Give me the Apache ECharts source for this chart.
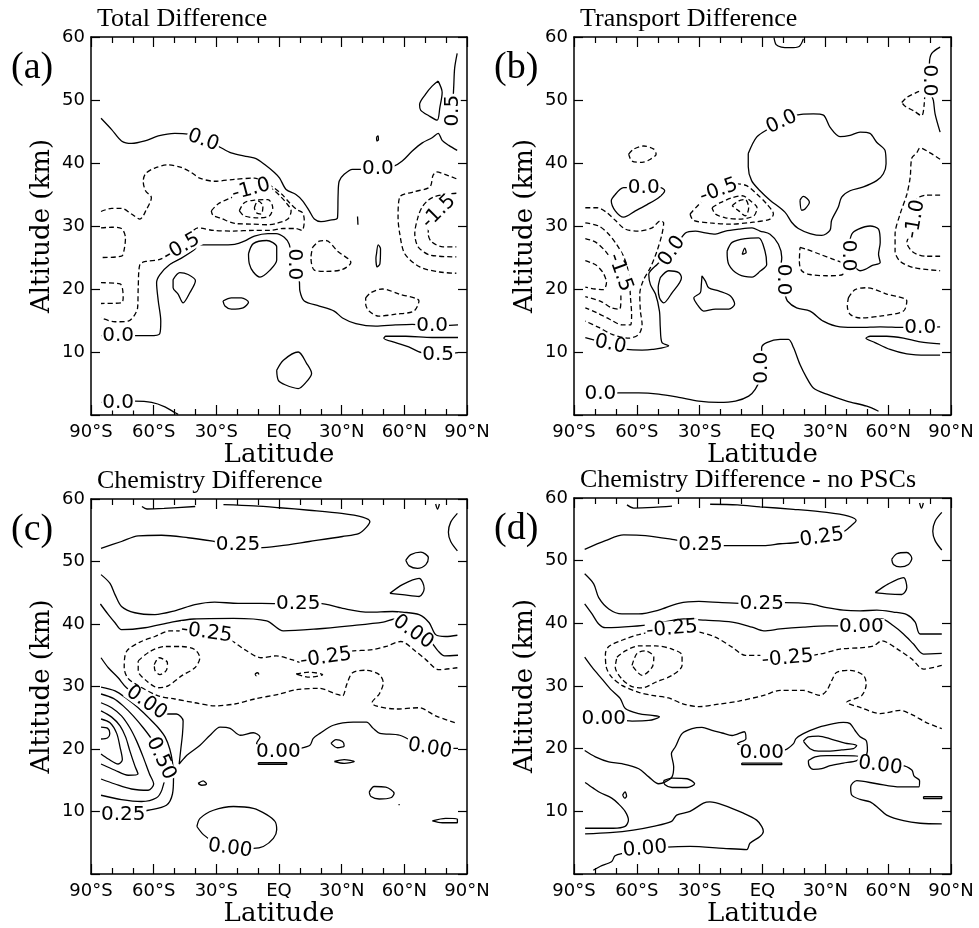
<!DOCTYPE html>
<html>
<head>
<meta charset="utf-8">
<title>Ozone difference panels</title>
<script src="https://cdn.jsdelivr.net/npm/echarts@6/dist/echarts.min.js"></script>
<style>
html, body { margin: 0; padding: 0; background: #fff; }
#chart { width: 979px; height: 928px; }
</style>
</head>
<body>
<div id="chart"></div>
<script>
// axis ticks
var latTicks = [-90, -60, -30, 0, 30, 60, 90];
var latNames = ['90°S', '60°S', '30°S', 'EQ', '30°N', '60°N', '90°N'];
var panelTitles = ['Total Difference', 'Transport Difference', 'Chemistry Difference', 'Chemistry Difference - no PSCs'];
var panelLetters = ['(a)', '(b)', '(c)', '(d)'];

// contours are [latitude, altitude km] points
// (a) total difference
var totalSolid = [
  [[-85.2,47.1],[-80.1,45.3],[-75.4,43.5],[-70.6,43.1],[-64.2,43.5],[-57.8,44.3],[-49.9,44.7],[-43.6,44.6],[-36.3,43.6],[-29.3,42.7],[-22.9,41.6],[-14.9,41],[-11,40.7],[-7,39.8],[-2.2,38.5],[0.3,37.6],[3.4,35.8],[8.1,35],[11.3,34],[14.5,32.4],[16.9,31.1],[20.1,30.7],[24,30.9],[28,31.3],[28.3,35],[28.8,37.1],[31.2,38.2],[35.2,39],[40,39],[47.1,39],[55,39.5],[59,40.3],[63.8,41.9],[68.6,43.2],[73.3,44],[76.2,44.7],[78.1,43.6],[81.3,42.8],[85.3,42]],
  [[85.3,57.4],[84.1,55.1],[83.7,52.5],[83.2,48.3],[83.3,46.5]],
  [[76.2,53],[78.1,51.2],[77,48.8],[75.7,46.8],[71.7,47.5],[67.8,48.4],[67.3,49.3],[70.1,50.9],[73.3,52.2],[76.2,53]],
  [[46.7,44.1],[47.4,44.3],[47.6,43.7],[46.9,43.5],[46.7,44.1]],
  [[-85.2,12.6],[-77,12.5],[-69,12.6],[-61.8,12.6],[-57.1,12.9],[-56.6,14.9],[-57.8,18.1],[-58.6,21],[-57,22.3],[-52.3,23.9],[-46.7,24.9],[-40.3,26.3],[-38.8,27],[-29.2,27],[-21.2,27.1],[-16.6,27.6],[-11.8,28.4],[-5.3,28.8],[-1.4,28.8],[2.5,28.2],[4.9,27.1],[5.7,25.5],[7.4,23.9],[9.7,21.3],[10,19.7],[12.1,18.1],[19.3,17.3],[26.4,16.5],[30.4,15.4],[36.8,14.5],[46.3,14.1],[55.8,14.3],[63.8,14.4],[73.3,14.1],[85.7,14.3]],
  [[85.7,12.3],[73.3,12.3],[60.7,12.5],[51.1,12.5],[50.2,12.2],[55.8,11.5],[62.1,10.8],[68.3,9.9],[76.2,9.6],[85.7,9.9]],
  [[-50.7,21.5],[-47.5,22.6],[-43.5,22.3],[-40,21.3],[-42.7,19.4],[-45.9,17.8],[-48.3,19.2],[-50.7,20.2],[-50.7,21.5]],
  [[-26.8,18.1],[-22.8,18.6],[-18,18.6],[-14.6,17.9],[-17.2,17],[-22.8,16.8],[-25.9,17.3],[-26.8,18.1]],
  [[-14.6,25.6],[-12.3,27.2],[-5.9,27.7],[-1.1,26.7],[-1.1,24.6],[-4.3,23],[-9.1,21.9],[-12.3,22.7],[-14.2,24],[-14.6,25.6]],
  [[-1.1,7.1],[2.1,8.7],[9.2,10],[13.2,8.2],[15.6,6.6],[12.4,5],[9.2,4.2],[2.9,4.8],[-0.3,5.5],[-1.1,7.1]],
  [[46.7,25.6],[47.5,27],[48.6,26.4],[48.3,24],[47,23.5],[46.4,24.9],[46.7,25.6]],
  [[-85.2,2],[-77,2],[-69,2.2],[-61,2],[-54.6,1.3],[-49.9,0.4],[-48.3,0.1]],
  [[37.6,31.5],[37.8,30.2]]
];
var totalDashed = [
  [[-85.2,32.3],[-80.1,32.8],[-75.4,32.8],[-70.6,31.9],[-66.6,31.1],[-63.5,32.6],[-61.1,34.5],[-63.9,35.6],[-65,37.1],[-63.9,38.3],[-59.5,39.2],[-53.1,39.7],[-46.8,39.3],[-42,38.5],[-38,37.6],[-30.9,37.1],[-21.4,37.4],[-11.8,37.6],[-7,36.9],[-2.2,36],[1.5,35],[5.3,33.6],[8.6,32.6],[11.3,32.1],[12.1,30.8],[11,29.3],[8,29.6],[2.1,29.6],[-4.3,29.3],[-12.3,29.3],[-21.8,29.2],[-31.4,29.3],[-38.8,29.7],[-46.7,26.6],[-57,24.7],[-63.4,24.4],[-66.6,23.9],[-67.4,20.2],[-67.7,17],[-72.2,14.9],[-78.5,14.8],[-85.2,15.4]],
  [[-85.2,29.7],[-80.1,29.8],[-75.4,29.6],[-73.5,28.1],[-74.1,26.3],[-75.4,25.2],[-85.2,25]],
  [[-85.2,21],[-76.1,20.8],[-74.6,18.6],[-75.4,17.8],[-85.2,17.7]],
  [[-32.4,32.4],[-29.2,33.5],[-22.8,34.5],[-13.3,35.8],[-6.3,36.3],[-2.2,35.6],[1,34.6],[3.4,33.7],[5.8,32.4],[4.2,31.1],[-1.4,30.4],[-5.3,30.2],[-13.2,30.3],[-21.2,30.4],[-27.6,31.2],[-31.6,31.7],[-32.4,32.4]],
  [[-19,32.4],[-16.6,33.7],[-11.8,34.1],[-5.3,34.2],[-3,32.9],[-4.6,31.6],[-10.1,31.3],[-16.6,31.6],[-19,32.4]],
  [[-11.8,32.9],[-10.1,34],[-7.7,33.2],[-8.5,31.9],[-10.9,32.1],[-11.8,32.9]],
  [[84.9,37.5],[80.1,38.1],[75.3,38.6],[73.7,38],[72.2,36.2],[64.2,35.4],[57.8,34.6],[57,31.4],[57.8,28.8],[60.2,25.6],[67.4,23.5],[76.9,22.7],[84.9,22.5]],
  [[84.9,35.2],[79,35],[74,34.6],[71.4,34.1],[68.5,33],[66.6,31.5],[65,28.8],[66.6,26.7],[72.2,25.4],[84.9,25.1]],
  [[84.9,33.5],[80.5,33.5],[77,32.5],[74.5,31.5],[72.2,30.5],[71.4,28.8],[73,27.5],[78.5,26.7],[84.9,26.7]],
  [[16.1,26.6],[19.3,27.6],[22.5,27.7],[28,26],[34.4,24.2],[30.4,23.1],[22.5,22.8],[16.9,23],[15.3,25],[16.1,26.6]],
  [[41.5,18.6],[43.9,19.4],[49.5,20],[57.5,19.2],[67,18.1],[64.6,16.5],[55.8,16],[47.8,15.7],[43.1,16.5],[41.5,17.6],[41.5,18.6]]
];
var totalLabels = [[-36.3,43.6,'0.0'],[47.3,39.1,'0.0'],[-46.7,26.6,'-0.5'],[-13.3,35.8,'-1.0'],[7.4,23.9,'0.0'],[76.5,32.3,'-1.5'],[83.2,48.3,'0.5'],[73.3,14.1,'0.0'],[76.2,9.6,'0.5'],[-77,12.5,'0.0'],[-77,2,'0.0']];
var totalAngles = [-20, 0, 30, 15, -90, 45, 90, 0, 0, 0, 0];

// (b) transport difference
var transportSolid = [
  [[-85,3.4],[-77.4,3.3],[-68.7,3.5],[-59.1,3.5],[-49.6,3.3],[-40,2.8],[-30.4,2.2],[-20.9,2],[-12.9,2.2],[-6.6,3],[-3.4,4.1],[-1.2,5.8],[-0.5,7.5],[-0.4,10.7],[2,11.5],[8.4,12],[12.4,12],[14.8,10.7],[17.9,8],[21.1,5.9],[24.3,4.3],[30.7,3.3],[40.2,2.2],[49.8,1.4],[55.4,0.6]],
  [[-84.6,12.3],[-72.6,11.2],[-64.7,10.4],[-57.5,10.3],[-52.7,10.4],[-44.8,11],[-48,11.5],[-48.8,13.9],[-49.2,16.5],[-51.1,19.2],[-53.5,20.7],[-54.3,22.3],[-50.3,23.9],[-43.2,26],[-36.8,28.9],[-32,29.2],[-27.3,28.9],[-22.5,28.7],[-17.7,29.2],[-11.3,29.5],[-5,29.7],[-1.2,29.2],[3.6,28.7],[7.6,27.1],[9.2,25],[8.7,23.4],[10,21.5],[10.8,19.2],[11.9,18.1],[16.3,17],[22.7,16.5],[29,14.9],[37,14],[46.6,13.9],[56.2,14],[67.3,13.9],[75.3,13.9],[84.8,14]],
  [[84.8,11.3],[75.3,11.6],[67.3,12.2],[59.3,12.5],[51.4,12.5],[49.4,12.2],[53.7,11.5],[60.9,10.4],[68.9,9.7],[78.4,9.5],[84.8,9.5]],
  [[-70.3,35],[-66.3,36.1],[-56.7,36.1],[-48.8,36.1],[-46.7,35.6],[-49.6,34.5],[-55.1,33.4],[-60.7,32.4],[-66.3,31.4],[-70.3,32.4],[-72.2,34],[-70.3,35]],
  [[-48.8,21.8],[-44.8,22.9],[-40,22.6],[-38.7,21.8],[-43.2,19.4],[-47.2,17.8],[-49.2,18.6],[-49.8,20.2],[-48.8,21.8]],
  [[-28.9,22.1],[-27.3,21.3],[-25.7,20.2],[-20.9,19.7],[-15.3,18.9],[-13.3,17.6],[-16.1,16.8],[-22.5,16.8],[-28.1,16.5],[-31.3,17.6],[-32.8,18.6],[-29.7,19.4],[-29.2,20.7],[-28.9,22.1]],
  [[-16.9,26],[-14.5,27.4],[-8.2,28],[-1.8,28.1],[1.2,26],[2,23.9],[-1.2,22.8],[-5,21.9],[-11.3,22.3],[-16.1,23.9],[-16.9,26]],
  [[-9.7,25.5],[-8.5,26.5],[-7.8,25.8],[-9.7,25.5]],
  [[-6.8,41.5],[-2.8,44.1],[2.8,45.4],[9.2,46.5],[16.3,47.6],[24.3,47.8],[29.1,47.6],[32.2,45.7],[37,44.2],[41.8,44.4],[46.6,44.9],[51.3,44.7],[54.5,43.3],[58.5,42],[59,39.9],[57.7,38.3],[54.5,37.2],[48.2,36.2],[41.8,35.6],[37.8,34.6],[36.2,33],[33,30.9],[32.2,29.3],[28.3,28.5],[22.7,28.8],[17.1,29.6],[13.9,30.6],[10.7,32.2],[3.6,34.1],[-1.2,35.6],[-5.2,37.2],[-6.8,39.4],[-6.8,41.5]],
  [[17.9,34.1],[19.5,34.7],[22.4,33.8],[20.3,32.7],[18.7,32.5],[17.9,34.1]],
  [[5.5,59.9],[6.5,58.8],[9,58.4],[13.1,58.3],[17.5,58.5],[19.5,59.7]],
  [[84.8,58.4],[80.8,57.4],[79.7,55.8],[79.7,53.1],[80.5,51],[81.6,49.9],[82.4,47.8],[84.8,44.9]],
  [[41,26.3],[42.6,28.7],[45.8,29.5],[51.4,30],[55.4,29.5],[56.2,27.4],[55.4,25.5],[56.2,24.2],[52.2,23.7],[49,23.1],[46.6,22.9],[44.2,23.4],[41,23.9],[41,26.3]]
];
var transportDashed = [
  [[-63.9,41.4],[-61.5,42.2],[-56.7,42.7],[-51.9,42.2],[-50.8,41.4],[-53.5,40.6],[-57.5,40.1],[-62.3,40.3],[-63.9,41.4]],
  [[-84.6,32.9],[-79,32.9],[-74.2,32.1],[-70.3,30.9],[-65.5,29.5],[-59.1,29.2],[-52.7,29.7],[-48.8,30.8],[-47.2,30.5],[-48,28.7],[-50.4,26],[-53.5,23.4],[-57,21.3],[-58.6,19.2],[-58.3,16.5],[-57.5,14.4],[-59.1,12.8],[-63.9,12.2],[-71.8,12.8],[-78.2,13.9],[-84.6,14.9]],
  [[-84.6,30.5],[-78.2,30],[-73.4,28.7],[-69.5,27],[-66.5,25.3],[-64.5,23.4],[-63.5,21],[-63,18.5],[-62.5,16],[-63,14.3],[-67,14.3],[-73,15.2],[-79.5,16.3],[-84.6,17]],
  [[-84.6,28],[-79.5,27.4],[-75,26],[-71.5,24.3],[-69.2,22.5],[-68,20.5],[-67.6,18.5],[-68.3,16.8],[-72,17],[-77,18],[-84.6,18.8]],
  [[-84.6,24.5],[-79.5,23.8],[-76,22.5],[-74.5,21],[-76,19.9],[-80,20],[-84.6,20.3]],
  [[-34.6,31.9],[-28.2,34.1],[-20.9,35.6],[-12.3,36.7],[-7.6,36.4],[-2.8,35.1],[2,33.5],[5.2,31.9],[3.6,31.1],[-4.4,30.6],[-15.5,30.3],[-25,30.5],[-33,30.9],[-34.6,31.9]],
  [[-24.1,32.9],[-20.1,33.7],[-14.5,34.5],[-9.7,34.8],[-5.8,34],[-2.6,32.9],[-4.2,31.6],[-11.3,31.1],[-17.7,31.3],[-22.5,31.9],[-24.1,32.9]],
  [[-14.5,33.2],[-11.3,34],[-8.2,34.2],[-6.6,32.9],[-8.2,31.6],[-11.3,32.4],[-14.5,33.2]],
  [[17.9,26.6],[21.1,26.3],[27.5,25.5],[33.9,24.7],[38.6,23.9],[38.3,22.3],[30.7,22.1],[22.7,22.3],[18.7,22.9],[17.6,24.4],[17.9,26.6]],
  [[41,18.6],[44.2,19.9],[49.8,20.2],[59.3,19.2],[68.9,18.1],[67.3,16.5],[56.2,15.7],[46.6,15.4],[41.8,16],[40.5,17.3],[41,18.6]],
  [[84.8,40.6],[80,41.6],[75.3,42.4],[73.6,41.6],[71.3,40.8],[70.5,37.7],[68.9,35],[65.7,31.9],[63.3,28.7],[63.3,26],[65.7,24.4],[72.1,23.4],[84.8,22.9]],
  [[84.8,34.9],[78.4,34.9],[73.6,34.2],[72.9,31.1],[70.5,28.7],[68.9,27.4],[72.1,25.8],[78.4,25.2],[84.8,25.2]],
  [[66.5,49.6],[68.9,50.4],[73.6,51.2],[77.6,51.7],[77.1,49],[76,47.5],[72.1,48.3],[68.1,49],[66.5,49.6]]
];
var transportLabels = [[-77.4,3.3,'0.0'],[-0.5,7.5,'0.0'],[-72.6,11.2,'0.0'],[-43.2,26,'0.0'],[10,21.5,'0.0'],[75.3,13.9,'0.0'],[-56.7,36.1,'0.0'],[-20.9,35.6,'-0.5'],[9.2,46.5,'0.0'],[79.7,53.1,'0.0'],[72.9,31.1,'-1.0'],[-68,22.6,'-1.5'],[41,25.3,'0.0']];
var transportAngles = [0, 90, -12, 55, -90, 0, 0, 20, 25, -90, 80, -70, -90];

// (c) chemistry difference
var chemSolid = [
  [[-85.2,52.1],[-75.4,53.2],[-67.4,54.1],[-56.2,54.2],[-43.5,53.8],[-30.8,53.2],[-19.6,52.6],[-9.3,52.2],[0.3,52.5],[14.5,53.2],[30.4,54],[38.4,54.5],[41.9,55.5],[43.5,56.4],[40,57.1],[30,57.7],[14.5,58.2],[0.3,58.6],[-12,58.9],[-26.6,59.1]],
  [[-65.6,58.8],[-63.2,58.4],[-55,58.5],[-40.1,58.8]],
  [[85.4,57.7],[82.2,56.3],[81.1,54.7],[82.2,53.2],[85.4,51.7]],
  [[60.7,50.2],[63.1,51.1],[67.9,51.5],[71.5,50.6],[70.3,49.5],[66.3,48.9],[62.3,49.3],[60.7,50.2]],
  [[53.1,44.9],[59.1,46.3],[67.1,47.3],[69.5,45.7],[67.1,44.4],[59.1,44.7],[53.1,44.9]],
  [[-85.2,47.9],[-80.9,46.5],[-78.5,44.7],[-75.4,42.8],[-69,41.8],[-59.4,41.5],[-49.9,42.1],[-40.3,43.1],[-30.8,43.5],[-19.6,43.3],[-8.5,43.3],[9.2,43.2],[19.3,43.3],[30.4,42.5],[43.2,41.9],[54.3,42],[59.1,41.9],[67.1,41.5],[71.9,40.2],[75,38.3],[79.8,38],[85.4,38.2]],
  [[-85.5,43.2],[-81.7,41.5],[-78.5,40.2],[-75.4,39.1],[-64.2,39.4],[-51.3,40.3],[-40.9,40.8],[-21.8,40.9],[-5.9,40.5],[2.1,38.9],[18,39.2],[33.9,39.7],[49.9,40.3],[55.4,40.8],[60,40],[64.2,38.7],[68.5,37.6],[72.2,37.3],[76.1,35.7],[79.3,34.9],[85.7,35]],
  [[-85.2,34.6],[-81.7,33],[-77,31.4],[-73,29.8],[-63.4,27.4],[-53.1,25.6],[-49.1,25.6],[-45.9,24.5],[-46.2,22.4],[-47,20],[-47.8,17.6],[-45.5,18.5],[-44.1,19],[-37.8,20.6],[-33,22.2],[-28.2,23.5],[-23.4,23.3],[-18.6,22.2],[-12.3,22.6],[-9.1,21.9],[-10.7,20.9],[-7.5,20.1],[-0.3,19.5],[10,20.1],[14.8,20.6],[16.4,21.7],[19.6,22.5],[26,23.8],[35.5,24.3],[41.9,24.3],[45.1,23.3],[48.3,22.5],[57.8,22.2],[72.2,20.1],[80.1,20.1],[85.7,20.1]],
  [[-85.2,29.9],[-78.5,29.3],[-73,28.1],[-67.4,26.6],[-61.8,24.8],[-57.8,23.4],[-54.5,21.9],[-52.3,20],[-51,17.9],[-50.5,15.5],[-51,12.8],[-53.9,11],[-62.6,10.2],[-74.6,9.4],[-85.2,9.9]],
  [[-85.2,28.8],[-79.3,28.1],[-74.6,26.9],[-69.8,25.3],[-65,23.4],[-61,21.6],[-57.8,19.6],[-55.4,17.5],[-54.8,15.5],[-56,13.5],[-58.6,12.2],[-65.8,11.6],[-75.4,11.9],[-85.2,12.6]],
  [[-85.2,27.4],[-80.1,26.6],[-75.4,25.3],[-71.4,23.4],[-68.2,21.3],[-65,18.7],[-62,16],[-60,14.4],[-62.6,13.4],[-70.6,13.6],[-78.5,14.4],[-85.2,15.2]],
  [[-85.2,26.1],[-80.1,25.1],[-76.1,23.7],[-73.4,21.9],[-71.4,19.7],[-69,17.3],[-67.5,16],[-72.2,15.8],[-78.5,16.6],[-85.2,17.6]],
  [[-85.2,24.8],[-80.9,24.2],[-77.7,22.5],[-76.1,20.3],[-75,18.3],[-77,17.6],[-81.7,18.4],[-85.2,19.2]],
  [[-85.2,23.5],[-82,23.3],[-81,22.5],[-82,21.8],[-85.2,21.6]],
  [[-39.3,7.6],[-37.8,8.9],[-31.4,10.2],[-21.8,10.8],[-12.3,10.5],[-5.9,9.5],[-1.9,8.4],[-1.1,7.1],[-2.7,5.7],[-7.5,4.4],[-12.3,4.1],[-23.4,4.1],[-31.4,5.2],[-36.2,6.3],[-39.3,7.6]],
  [[-9.9,17.8],[3.7,17.8],[3.7,17.55],[-9.9,17.55],[-9.9,17.8]],
  [[-38.7,14.5],[-36.3,14.9],[-34.7,14.4],[-37.1,14.2],[-38.7,14.5]],
  [[24.9,20.9],[27.3,21.5],[30.4,21.2],[31.2,20.5],[28,20.2],[24.9,20.9]],
  [[26.5,18],[31.2,18.3],[36,18],[31.2,17.7],[26.5,18]],
  [[43.2,13.1],[45.6,14],[51.1,13.9],[55.1,12.9],[53.5,12.2],[48,12],[44,12.4],[43.2,13.1]],
  [[73.4,8.5],[79.8,8.9],[85.4,8.8],[85.4,8.2],[78.2,8.2],[73.4,8.5]],
  [[75,59.2],[75.9,58.4],[76.8,59.2]],
  [[57.2,11.1],[57.8,11.1]]
];
var chemDashed = [
  [[85.4,33],[76.6,32.7],[70.3,34.3],[65.5,35.6],[58.3,37.2],[51.1,36.4],[44.8,35.9],[33.6,35.6],[22.5,34.6],[11.3,33.8],[6,34.3],[-1.4,34.9],[-8.5,34.6],[-16.4,35.9],[-23.6,37.5],[-34.7,38.6],[-52.3,38.9],[-59.4,38],[-66.6,37.1],[-73,35.6],[-74.1,33],[-72.5,31.4],[-68.2,30.3],[-57.8,28.5],[-49.9,28],[-40.3,27.4],[-30.8,26.9],[-21.2,27.2],[-11.7,28],[0.3,28.8],[8.2,29.5],[19.3,29.7],[27.3,28.8],[30.4,28.5],[32.4,30.3],[35.2,32.2],[41.6,32.6],[48,31.9],[49.9,30.6],[48,28.8],[44.5,27.4],[46.4,26.9],[55.9,26.4],[67.1,26.6],[75,25.3],[85.4,24.1]],
  [[-67.4,34.1],[-61.8,35.6],[-54.6,36.4],[-46.7,36.4],[-40.3,35.9],[-37.9,34.6],[-40.3,33],[-46.7,31.7],[-53.1,30.1],[-57.8,29.8],[-63.4,30.9],[-67.4,32.5],[-67.4,34.1]],
  [[-59.7,33.5],[-57.5,34.6],[-53.4,33.8],[-53.9,32.6],[-57,31.9],[-59.4,32.6],[-59.7,33.5]],
  [[8.2,32],[14.5,32.3],[20.9,31.9],[14.5,31.5],[8.2,32]],
  [[-11.5,32],[-10.3,32.2],[-9.6,31.9],[-10.8,31.7],[-11.5,32]]
];
var chemLabels = [[-19.6,52.6,'0.25'],[9.2,43.2,'0.25'],[-34.7,38.6,'-0.25'],[22.5,34.6,'-0.25'],[64.2,38.7,'0.00'],[-63.4,27.4,'0.00'],[-56.5,18.5,'0.50'],[-74.6,9.4,'0.25'],[-0.3,19.5,'0.00'],[72.2,20.1,'0.00'],[-23.4,4.1,'0.00']];
var chemAngles = [0, 0, -8, 8, -35, -35, -65, 0, 0, -10, -8];

// (d) chemistry difference without PSCs
var noPscSolid = [
  [[-84.9,51.8],[-75,53.2],[-66.3,54.1],[-55.9,54],[-43.2,53.4],[-29.6,52.6],[-17.7,52.4],[-8.2,52.4],[0.6,52.4],[8.4,52.7],[16.3,52.9],[28.3,53.7],[38.6,54.6],[42.1,55.5],[44.7,56.4],[41,57.1],[30.7,57.7],[14.8,58.2],[-1.2,58.6],[-12,58.9],[-25,59]],
  [[-64.7,58.9],[-61.5,58.4],[-52,58.5],[-43.2,58.7]],
  [[85.6,57.7],[82.4,56.3],[81.3,54.7],[82.4,53.2],[85.6,51.7]],
  [[61.7,50.2],[64.1,51.1],[68.9,51.3],[71.3,50.4],[69.7,49.4],[65.7,49],[62.5,49.4],[61.7,50.2]],
  [[53.8,44.9],[60.1,46.3],[67.3,47.3],[68.9,45.7],[66.5,44.6],[59.3,44.7],[53.8,44.9]],
  [[-84.9,47.9],[-80.6,46.3],[-78.2,44.1],[-73.4,42.3],[-67.1,41.5],[-59.1,41.5],[-49.6,42.1],[-40,43.2],[-30.4,43.5],[-19.3,43.3],[-0.4,43.1],[10.8,43.3],[22.7,43.1],[30.7,42.5],[38.6,42.1],[46.6,42],[54.6,42.1],[62.5,41.8],[68.9,41.4],[72.9,40.2],[75.3,38.3],[85.6,38.3]],
  [[-84.9,43.1],[-81.4,41.5],[-78.2,39.9],[-75,39.3],[-62.3,39.5],[-50,40],[-37.6,40.7],[-27.3,40.5],[-14.5,40.2],[-5,39.4],[0.6,38.8],[8.4,39.1],[19.5,39.4],[30.7,39.6],[37,39.6],[46.6,39.6],[56.9,40.7],[62.5,39.6],[67.3,38.3],[72.1,36.7],[76.9,35.1],[85.6,35.2]],
  [[-84.9,34.6],[-81.4,33],[-76.6,31.1],[-72.6,29.5],[-67.9,28],[-65.5,26.4],[-59.1,25.6],[-52.7,25.3],[-49.2,25.1],[-54.3,24.5],[-62.3,24.4],[-66.3,24.5],[-75.8,24.8]],
  [[-84.9,19.7],[-79.8,18.7],[-73.4,17.9],[-67.1,17.6],[-59.1,16.8],[-54.3,15.5],[-49.6,14.4],[-46.4,14.7],[-43.2,15.5],[-42.4,17.1],[-43.5,19.2],[-41.6,20.3],[-38.4,22.4],[-33.6,23.2],[-28.9,23.4],[-24.1,22.9],[-19.3,22.5],[-14.5,22.1],[-8.7,22.7],[-7.9,21.6],[-11.9,20.8],[-7.9,20.2],[-0.4,19.3],[10.8,19.8],[14.8,20.8],[16,21.6],[19.5,22.4],[26.7,23.4],[33.9,24],[38.6,24.2],[41.8,24],[44.2,22.9],[46.6,21.9],[49.5,21.3],[50.1,19.7],[49.5,18.7],[56.2,17.3],[66.5,17.3],[71.3,16.6],[72.4,15.6],[75,14.9],[74.6,13.9],[65.7,13.9],[54.6,14.4],[45,14.9],[42.1,13.9],[42.6,12.6],[46.6,11.9],[51.4,11.5],[55.4,10.5],[59.3,9.4],[67.3,8.5],[75.3,8.1],[85.6,8]],
  [[-9.9,17.7],[9.2,17.7],[9.2,17.45],[-9.9,17.45],[-9.9,17.7]],
  [[19.5,21.2],[21.9,21.9],[26.7,22],[33.1,21.5],[39.4,20.9],[45,20.5],[43.4,20],[37.8,19.8],[32.3,19.6],[26.7,19.6],[22.7,20],[19.5,21.2]],
  [[21.9,18.1],[25.1,18.7],[30.7,18.9],[38.6,18.9],[46.6,18.7],[45,18.1],[38.6,17.7],[32.3,17.3],[28.3,16.8],[24.3,16.7],[22.2,17.3],[21.9,18.1]],
  [[76.9,12.35],[85.6,12.35],[85.6,12.05],[76.9,12.05],[76.9,12.35]],
  [[-47.2,14.9],[-43.2,15.3],[-36,15.2],[-32.4,14.4],[-36,13.8],[-43.2,13.8],[-46.7,14.3],[-47.2,14.9]],
  [[-84.7,14.6],[-80.8,13.7],[-77.6,13],[-72,12.1],[-68.8,11.2],[-65.6,10],[-64,8.6],[-65.6,7.6],[-71.2,7.3],[-84.7,7.3]],
  [[-66.8,12.6],[-65.6,13.1],[-64.9,12.4],[-65.8,12.1],[-66.8,12.6]],
  [[-84.7,6.4],[-72.8,6.6],[-61.7,7],[-52.1,7.6],[-43.4,8.4],[-41,9.4],[-34.6,10],[-28.2,11.3],[-25.1,11.5],[-18.7,11],[-9.1,9.7],[-2.8,8.6],[-0.4,7.6],[0.4,6.8],[-1.2,6],[-6,4.9],[-7.5,3.9],[-18.7,4.1],[-34.6,4.4],[-45.8,4.3],[-56.1,4],[-66.4,3.3],[-70.4,2.9],[-72,2],[-77.6,1.2],[-80.8,0.6]],
  [[75,59.2],[75.9,58.4],[76.8,59.2]]
];
var noPscDashed = [
  [[85.6,33.3],[76.9,32.7],[71.3,34.3],[65.7,35.6],[56.9,37.2],[53,36.4],[46.6,36.1],[37,35.9],[27.5,35.1],[12,34.4],[0.6,34.9],[-8.2,34.9],[-14.5,36.2],[-22.5,37.8],[-30.4,38.6],[-43.2,39.1],[-59.1,38.2],[-67.1,37.3],[-73.4,36.3],[-75,35.1],[-74.6,33],[-72.2,31.5],[-67.1,30.1],[-59.1,29],[-52.7,28.5],[-44.8,28.1],[-38.4,27.2],[-30.4,26.7],[-20.9,27.1],[-11.3,27.6],[0.6,28.5],[8.4,29.3],[19.5,29.3],[27.5,28.5],[30.7,29.3],[33.1,30.9],[35.5,32.2],[41.8,32.5],[48.2,31.7],[49.5,30.3],[47.4,28.5],[40.2,27.4],[46.6,26.6],[56.2,25.6],[65.7,26.1],[72.1,25.3],[78,24.2],[85.6,23.2]],
  [[-69.5,34.6],[-65.5,35.6],[-59.1,36.4],[-51.1,36.4],[-43.2,35.9],[-38.4,34.9],[-38.4,33.3],[-43.2,31.7],[-51.1,30.6],[-57.5,29.7],[-62.3,29.9],[-67.1,31.1],[-70.3,33],[-69.5,34.6]],
  [[-62.3,33.3],[-59.9,35.2],[-55.9,35.6],[-51.9,34.6],[-52.7,33],[-57.5,31.7],[-62.3,33.3]]
];
var noPscLabels = [[-29.6,52.6,'0.25'],[28.3,53.7,'0.25'],[-0.4,43.1,'0.25'],[47.2,39.4,'0.00'],[-43.2,39.1,'-0.25'],[12,34.4,'-0.25'],[-75.8,24.8,'0.00'],[-0.4,19.3,'0.00'],[56.2,17.3,'0.00'],[-56.1,4,'0.00']];
var noPscAngles = [0, 8, 0, 0, 5, 5, 0, 0, -8, 5];

var panels = [
  { solid: totalSolid, dashed: totalDashed, labels: totalLabels, angles: totalAngles, left: 91, top: 37, width: 376, height: 378 },
  { solid: transportSolid, dashed: transportDashed, labels: transportLabels, angles: transportAngles, left: 574, top: 37, width: 377, height: 378 },
  { solid: chemSolid, dashed: chemDashed, labels: chemLabels, angles: chemAngles, left: 91, top: 499, width: 376, height: 377 },
  { solid: noPscSolid, dashed: noPscDashed, labels: noPscLabels, angles: noPscAngles, left: 574, top: 498, width: 377, height: 378 }
];

var black = '#000';
var tickFont = { color: black, fontFamily: 'DejaVu Sans', fontSize: 18 };
var nameFont = { color: black, fontFamily: 'DejaVu Serif', fontSize: 26 };

var grids = [], xAxes = [], yAxes = [], series = [], graphics = [];

panels.forEach(function (p, i) {
  grids.push({ left: p.left, top: p.top, width: p.width, height: p.height, show: false });

  [false, true].forEach(function (mirror) {
    xAxes.push({
      gridIndex: i, type: 'value', min: -90, max: 90, interval: 30,
      position: mirror ? 'top' : 'bottom',
      axisLine: { show: true, onZero: false, lineStyle: { color: black, width: 1.5 } },
      axisTick: { show: true, inside: true, length: 10, lineStyle: { color: black, width: 1.2 } },
      minorTick: { show: true, splitNumber: 3, length: 6, lineStyle: { color: black, width: 1.2 } },
      splitLine: { show: false },
      axisLabel: {
        show: !mirror, margin: 8, showMinLabel: true, showMaxLabel: true, hideOverlap: false,
        color: tickFont.color, fontFamily: tickFont.fontFamily, fontSize: tickFont.fontSize,
        formatter: function (v) { var k = latTicks.indexOf(v); return k < 0 ? '' : latNames[k]; }
      },
      name: mirror ? '' : 'Latitude', nameLocation: 'middle', nameGap: 27,
      nameTextStyle: nameFont
    });
    yAxes.push({
      gridIndex: i, type: 'value', min: 0, max: 60, interval: 10,
      position: mirror ? 'right' : 'left',
      axisLine: { show: true, onZero: false, lineStyle: { color: black, width: 1.5 } },
      axisTick: { show: true, inside: true, length: 9, lineStyle: { color: black, width: 1.2 } },
      splitLine: { show: false },
      axisLabel: {
        show: !mirror, margin: 6, showMaxLabel: true,
        color: tickFont.color, fontFamily: tickFont.fontFamily, fontSize: tickFont.fontSize,
        formatter: function (v) { return v === 0 ? '' : String(v); }
      },
      name: mirror ? '' : 'Altitude (km)', nameLocation: 'middle', nameRotate: 90, nameGap: 36,
      nameTextStyle: nameFont
    });
  });

  var ax = i * 2;
  function addLines(lines, dashed) {
    lines.forEach(function (pts) {
      series.push({
        type: 'line', xAxisIndex: ax, yAxisIndex: ax, data: pts,
        symbol: 'none', showSymbol: false, smooth: 0.3, silent: true, animation: false, z: 2,
        lineStyle: { color: black, width: 1.3, type: dashed ? [5, 3] : 'solid' }
      });
    });
  }
  addLines(p.solid, false);
  addLines(p.dashed, true);

  series.push({
    type: 'scatter', xAxisIndex: ax, yAxisIndex: ax, symbolSize: 1, silent: true, animation: false, z: 5,
    itemStyle: { color: 'rgba(0,0,0,0)', opacity: 1 },
    label: {
      show: true, position: 'inside', color: black, opacity: 1, fontFamily: 'DejaVu Sans', fontSize: 20,
      lineHeight: 16, textBorderWidth: 0, textBorderColor: 'transparent',
      backgroundColor: '#fff', padding: [0, 1]
    },
    data: p.labels.map(function (l, k) {
      return { value: [l[0], l[1]], label: { formatter: l[2], rotate: p.angles[k] } };
    })
  });

  graphics.push({
    type: 'text', left: p.left + 6, top: p.top - 31,
    style: { text: panelTitles[i], fill: black, font: '26px "Liberation Serif"' }
  });
  graphics.push({
    type: 'text', left: p.left - 80, top: p.top + 12,
    style: { text: panelLetters[i], fill: black, font: '38px "Liberation Serif"' }
  });
});

var chart = echarts.init(document.getElementById('chart'), null, { renderer: 'canvas' });
chart.setOption({
  backgroundColor: '#fff',
  animation: false,
  grid: grids,
  xAxis: xAxes,
  yAxis: yAxes,
  series: series,
  graphic: graphics
});
</script>
</body>
</html>
